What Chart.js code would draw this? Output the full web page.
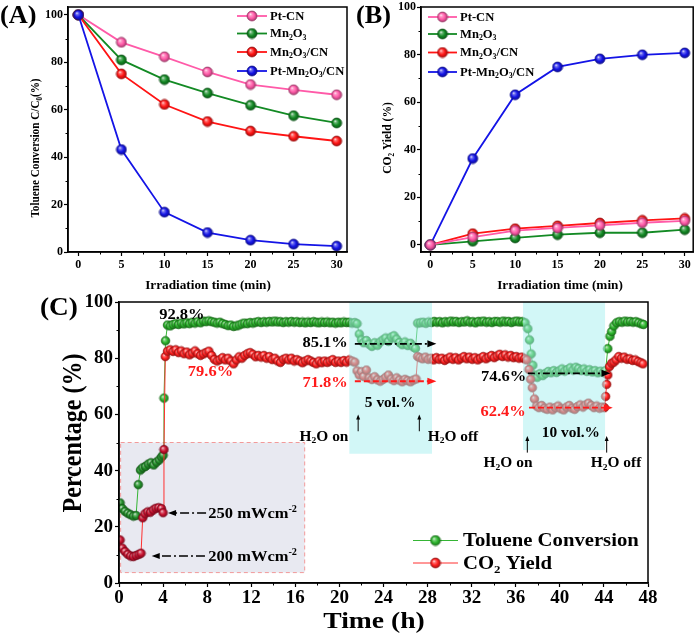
<!DOCTYPE html>
<html><head><meta charset="utf-8">
<script src="https://cdn.jsdelivr.net/npm/chart.js@4.4.1/dist/chart.umd.min.js"></script>
<style>
html,body{margin:0;padding:0;background:#fff;}
#wrap{position:relative;width:700px;height:635px;overflow:hidden;}
canvas{position:absolute;left:0;top:0;}
</style></head><body>
<div id="wrap">
<canvas id="cA" width="700" height="635"></canvas>
<canvas id="cB" width="700" height="635"></canvas>
<canvas id="cC" width="700" height="635"></canvas>
</div>
<script>
// ---------------- DATA ----------------
const timeMin = [0, 5, 10, 15, 20, 25, 30];
const sampleNames = ['Pt-CN', 'Mn₂O₃', 'Mn₂O₃/CN', 'Pt-Mn₂O₃/CN'];
// (A) Toluene conversion C/C0 (%)
const convPtCN      = [100, 88.4, 82.3, 75.9, 70.6, 68.4, 66.3];
const convMn2O3     = [100, 81.0, 72.7, 67.0, 61.9, 57.5, 54.4];
const convMn2O3CN   = [100, 75.1, 62.2, 55.0, 51.0, 48.8, 46.8];
const convPtMn2O3CN = [100, 43.2, 16.8, 8.2, 5.0, 3.3, 2.5];
// (B) CO2 yield (%)
const yieldPtCN      = [0, 3.3, 6.0, 7.1, 8.2, 9.3, 10.1];
const yieldMn2O3     = [0, 1.5, 2.9, 4.3, 5.1, 5.1, 6.4];
const yieldMn2O3CN   = [0, 4.7, 6.8, 8.0, 9.2, 10.3, 11.1];
const yieldPtMn2O3CN = [0, 36.3, 63.1, 74.8, 78.2, 79.9, 80.7];
// (C) long-term test
const tolTime = [
 0.1,0.3,0.55,0.8,1.05,1.3,1.55,1.75,1.95,2.15,2.4,2.65,2.9,3.15,3.4,3.65,3.85,4.0,4.08,4.22,
 4.4,4.65,4.9,5.15,5.4,5.65,5.9,6.15,6.4,6.65,6.9,7.15,7.4,7.65,7.9,8.15,8.4,8.65,8.9,9.15,
 9.4,9.65,9.9,10.15,10.4,10.65,10.9,11.15,11.4,11.65,11.9,12.15,12.4,12.65,12.9,13.15,13.4,13.65,13.9,14.15,
 14.4,14.65,14.9,15.15,15.4,15.65,15.9,16.15,16.4,16.65,16.9,17.15,17.4,17.65,17.9,18.15,18.4,18.65,18.9,19.15,
 19.4,19.65,19.9,20.15,20.4,20.65,20.9,21.15,21.4,21.6,
 21.8,22.0,22.2,22.45,22.7,22.95,23.2,23.45,23.7,23.95,24.2,24.45,24.7,24.95,25.2,25.45,25.7,25.95,26.2,26.45,26.7,26.9,27.1,
 27.35,27.6,27.85,28.1,28.35,28.6,28.85,29.1,29.35,29.6,29.85,30.1,30.35,30.6,30.85,31.1,31.35,31.6,31.85,32.1,
 32.35,32.6,32.85,33.1,33.35,33.6,33.85,34.1,34.35,34.6,34.85,35.1,35.35,35.6,35.85,36.1,36.35,36.6,36.85,
 37.1,37.25,37.4,37.55,37.75,37.95,
 38.2,38.45,38.7,38.95,39.2,39.45,39.7,39.95,40.2,40.45,40.7,40.95,41.2,41.45,41.7,41.95,42.2,42.45,42.7,42.95,43.2,43.45,43.7,43.95,
 44.15,44.35,44.55,44.7,44.9,
 45.15,45.4,45.65,45.9,46.15,46.4,46.65,46.9,47.15,47.4,47.6
];
const tolConv = [
 28.5,26.5,25.5,24.8,24.3,23.8,24.0,35.0,40.2,41.0,41.5,42.3,42.8,42.0,43.0,43.8,44.8,45.5,65.8,86.2,
 91.8,91.5,92.0,92.3,92.0,92.5,92.2,92.6,92.3,92.8,92.5,93.0,92.6,93.2,93.0,93.3,93.0,92.8,92.5,92.8,
 92.3,92.0,91.6,91.8,91.3,91.5,91.8,92.2,92.5,92.3,92.7,92.5,92.8,93.0,92.7,93.0,92.8,93.1,92.9,93.2,
 92.9,93.0,92.7,93.0,92.8,93.1,92.8,93.0,92.7,92.9,92.6,92.9,92.7,93.0,92.8,92.6,92.9,92.7,92.9,92.6,
 92.8,92.5,92.8,92.6,92.9,92.7,92.8,92.5,92.7,92.3,
 88.6,86.5,85.5,86.3,85.0,84.2,85.5,84.6,85.8,86.5,87.2,86.0,87.5,88.0,86.8,85.6,84.8,85.8,84.5,85.3,84.0,83.5,92.5,
 92.6,92.8,92.4,92.9,92.7,93.1,92.8,93.0,92.6,93.0,92.8,93.2,92.9,93.1,92.7,93.0,92.9,93.3,92.8,93.0,
 92.6,93.1,92.9,93.2,92.8,93.0,92.7,93.1,93.0,92.8,93.2,92.9,93.1,92.7,93.0,93.2,92.9,93.0,92.6,
 90.5,86.5,81.5,77.5,74.0,73.2,
 74.5,73.8,74.6,75.3,74.8,75.6,74.9,75.5,76.2,75.4,76.0,76.6,75.8,76.8,76.3,75.6,76.2,75.3,75.9,75.1,75.6,74.8,75.4,74.9,
 75.6,83.4,87.8,89.5,91.5,
 92.6,93.0,92.8,93.2,92.9,93.1,92.8,93.0,92.6,92.2,92.0
];
const co2Time = [
 0.1,0.3,0.55,0.8,1.05,1.3,1.55,1.8,2.0,2.15,2.35,2.6,2.85,3.1,3.35,3.6,3.85,4.0,4.08,4.2,
 4.4,4.65,4.9,5.15,5.4,5.65,5.9,6.15,6.4,6.65,6.9,7.15,7.4,7.65,7.9,8.15,8.4,8.65,8.9,9.15,
 9.4,9.65,9.9,10.15,10.4,10.65,10.9,11.15,11.4,11.65,11.9,12.15,12.4,12.65,12.9,13.15,13.4,13.65,13.9,14.15,
 14.4,14.65,14.9,15.15,15.4,15.65,15.9,16.15,16.4,16.65,16.9,17.15,17.4,17.65,17.9,18.15,18.4,18.65,18.9,19.15,
 19.4,19.65,19.9,20.15,20.4,20.65,20.9,21.15,21.4,
 21.6,21.8,22.0,22.2,22.45,22.7,22.95,23.2,23.45,23.7,23.95,24.2,24.45,24.7,24.95,25.2,25.45,25.7,25.95,26.2,26.45,26.7,26.95,27.1,
 27.3,27.55,27.8,28.05,28.3,28.55,28.8,29.05,29.3,29.55,29.8,30.05,30.3,30.55,30.8,31.05,31.3,31.55,31.8,32.05,
 32.3,32.55,32.8,33.05,33.3,33.55,33.8,34.05,34.3,34.55,34.8,35.05,35.3,35.55,35.8,36.05,36.3,36.55,36.8,37.0,
 37.2,37.35,37.5,37.7,37.9,
 38.1,38.35,38.6,38.85,39.1,39.35,39.6,39.85,40.1,40.35,40.6,40.85,41.1,41.35,41.6,41.85,42.1,42.35,42.6,42.85,43.1,43.35,43.6,43.85,
 44.05,44.15,44.25,44.35,44.5,44.7,44.9,
 45.1,45.35,45.6,45.85,46.1,46.35,46.6,46.85,47.1,47.35,47.55
];
const co2Yield = [
 15.3,12.4,11.2,10.2,9.6,9.4,9.8,10.2,10.6,23.2,24.6,25.3,25.2,26.0,26.6,26.8,26.5,25.0,47.5,80.6,
 82.5,83.0,82.4,83.0,82.0,82.6,81.6,82.2,81.2,81.8,82.6,81.6,81.0,81.5,82.0,82.5,81.0,79.6,79.0,79.5,
 80.2,79.4,80.0,79.0,78.0,79.4,80.5,80.0,81.0,81.6,82.0,81.4,80.5,81.0,80.4,81.0,80.0,80.6,79.5,80.0,
 79.0,78.5,79.6,80.0,79.4,80.0,79.0,79.5,79.0,78.4,79.0,79.5,79.0,78.5,78.0,79.0,78.4,79.0,78.5,79.0,
 79.5,78.5,79.0,78.5,79.2,78.6,79.4,79.0,78.6,
 75.5,74.0,75.2,73.5,75.8,73.0,72.4,73.4,72.3,71.8,72.4,73.2,74.0,72.6,72.0,73.0,72.2,71.6,72.5,72.0,71.6,72.2,72.6,80.6,
 80.2,79.8,80.4,79.6,80.0,79.4,80.2,79.6,80.0,79.2,79.8,80.4,79.6,80.2,79.4,80.0,80.6,79.8,80.4,79.6,
 80.2,79.4,80.0,80.6,79.8,80.4,81.0,80.2,80.8,81.4,80.6,81.2,80.4,81.0,80.2,80.6,80.0,80.4,79.8,79.4,
 76.0,72.5,69.5,65.5,63.0,
 62.4,63.2,62.2,61.8,62.6,61.6,62.4,63.0,62.0,61.6,62.6,63.2,62.2,61.8,62.8,63.4,62.6,63.4,64.0,63.2,62.4,63.0,62.2,62.6,
 62.4,66.4,70.7,74.0,77.0,78.2,78.6,
 79.4,80.6,80.0,80.4,79.6,79.8,79.2,79.4,78.8,78.4,78.0
];
const seriesNamesC = ['Toluene Conversion', 'CO₂ Yield'];
// tick labels
const ticksMin = [0, 5, 10, 15, 20, 25, 30];
const ticksPct = [0, 20, 40, 60, 80, 100];
const ticksHour = [0, 4, 8, 12, 16, 20, 24, 28, 32, 36, 40, 44, 48];

// ---------------- HELPERS ----------------
const SERIF = "'Liberation Serif','Times New Roman','DejaVu Serif',serif";
function shade(hex, f){
  const n = parseInt(hex.slice(1), 16); let r = n>>16, g = (n>>8)&255, b = n&255;
  if (f < 0){ r*=1+f; g*=1+f; b*=1+f; } else { r += (255-r)*f; g += (255-g)*f; b += (255-b)*f; }
  return 'rgb(' + (r|0) + ',' + (g|0) + ',' + (b|0) + ')';
}
function makeBall(hex, r){
  const s = Math.ceil(2*r + 2), c = document.createElement('canvas');
  c.width = s; c.height = s;
  const x = c.getContext('2d'), m = s/2;
  const g = x.createRadialGradient(m - r*0.35, m - r*0.4, 0, m, m, r);
  g.addColorStop(0, '#ffffff'); g.addColorStop(0.25, shade(hex, 0.4));
  g.addColorStop(0.62, hex); g.addColorStop(1, shade(hex, -0.35));
  x.fillStyle = g; x.beginPath(); x.arc(m, m, r, 0, Math.PI*2); x.fill();
  x.lineWidth = 0.7; x.strokeStyle = shade(hex, -0.4); x.stroke();
  return c;
}
function richRuns(s){
  const sub = '₀₁₂₃₄₅₆₇₈₉', sup = {'⁻':'-', '²':'2'};
  const runs = [];
  for (const ch of s){
    let type = 0, c = ch; const i = sub.indexOf(ch);
    if (i >= 0){ type = 1; c = String(i); } else if (sup[ch]){ type = 2; c = sup[ch]; }
    if (runs.length && runs[runs.length-1].type === type) runs[runs.length-1].text += c;
    else runs.push({type, text: c});
  }
  return runs;
}
function drawRich(ctx, s, x, y, o){
  const size = o.size, sx = o.sx || 1, runs = richRuns(s);
  const fontFor = t => 'bold ' + (t ? size*0.62 : size) + 'px ' + SERIF;
  ctx.save();
  ctx.translate(x, y); ctx.scale(sx, 1);
  if (o.rot) ctx.rotate(o.rot);
  let w = 0;
  runs.forEach(r => { ctx.font = fontFor(r.type); r.w = ctx.measureText(r.text).width; w += r.w; });
  let cx = o.align === 'left' ? 0 : (o.align === 'right' ? -w : -w/2);
  const base = size*0.33;
  ctx.fillStyle = o.color || '#000'; ctx.textAlign = 'left'; ctx.textBaseline = 'alphabetic';
  runs.forEach(r => {
    ctx.font = fontFor(r.type);
    const dy = r.type === 1 ? size*0.2 : (r.type === 2 ? -size*0.4 : 0);
    ctx.fillText(r.text, cx, base + dy); cx += r.w;
  });
  ctx.restore();
}
function arrow(ctx, x1, y1, x2, y2, o){
  ctx.save();
  ctx.strokeStyle = o.color; ctx.fillStyle = o.color; ctx.lineWidth = o.lw || 1.5;
  const a = Math.atan2(y2-y1, x2-x1), h = o.head || 7, hw = o.hw || 3.5;
  const ex = x2 - Math.cos(a)*h*0.8, ey = y2 - Math.sin(a)*h*0.8;
  ctx.setLineDash(o.dash || []);
  ctx.beginPath(); ctx.moveTo(x1, y1); ctx.lineTo(ex, ey); ctx.stroke();
  ctx.setLineDash([]);
  ctx.beginPath(); ctx.moveTo(x2, y2);
  ctx.lineTo(x2 - Math.cos(a)*h + Math.sin(a)*hw, y2 - Math.sin(a)*h - Math.cos(a)*hw);
  ctx.lineTo(x2 - Math.cos(a)*h - Math.sin(a)*hw, y2 - Math.sin(a)*h + Math.cos(a)*hw);
  ctx.closePath(); ctx.fill();
  ctx.restore();
}
function frame(chart, minorX, minorY, len){
  const {ctx, chartArea: a, scales} = chart;
  ctx.save();
  ctx.strokeStyle = '#000'; ctx.lineWidth = 1.5;
  ctx.strokeRect(a.left, a.top, a.right - a.left, a.bottom - a.top);
  ctx.lineWidth = 1;
  ctx.beginPath();
  minorX.forEach(v => { const p = Math.round(scales.x.getPixelForValue(v)) + 0.5; ctx.moveTo(p, a.bottom); ctx.lineTo(p, a.bottom + len); });
  minorY.forEach(v => { const p = Math.round(scales.y.getPixelForValue(v)) + 0.5; ctx.moveTo(a.left, p); ctx.lineTo(a.left - len, p); });
  ctx.stroke();
  ctx.restore();
}
function legendItems(ctx, items, x1, x2, xt, ys, size, sx){
  items.forEach((it, i) => {
    const y = ys[i];
    ctx.save();
    ctx.strokeStyle = it.color; ctx.lineWidth = it.lw;
    ctx.beginPath(); ctx.moveTo(x1, y); ctx.lineTo(x2, y); ctx.stroke();
    ctx.drawImage(it.ball, (x1 + x2)/2 - it.ball.width/2, y - it.ball.height/2);
    ctx.restore();
    drawRich(ctx, it.label, xt, y, {size: size, align: 'left', sx: sx});
  });
}
function axisOpts(minV, maxV, tickList, fixSize, isX, fontSize, tickLen, pad){
  return {
    type: 'linear', min: minV, max: maxV,
    afterBuildTicks: s => { s.ticks = tickList.map(v => ({value: v})); },
    afterFit: s => { if (isX) s.height = fixSize; else s.width = fixSize; },
    grid: {display: true, drawOnChartArea: false, drawTicks: true, tickLength: tickLen, tickWidth: 1.2, tickColor: '#000'},
    border: {display: true, color: '#000', width: 1.5},
    ticks: {autoSkip: false, maxRotation: 0, color: '#000', padding: pad,
            font: {family: SERIF, size: fontSize, weight: 'bold', lineHeight: 1}}
  };
}

// ---------------- COLOURS ----------------
const colA = ['#ff5aa8', '#138a24', '#ff1414', '#1414e6'];
const ballsA = colA.map(c => makeBall(c, 5));
const legendBallsA = colA.map(c => makeBall(c, 5));

// ---------------- PANEL A ----------------
const convA = [convPtCN, convMn2O3, convMn2O3CN, convPtMn2O3CN];
new Chart(document.getElementById('cA'), {
  type: 'line',
  data: { datasets: convA.map((s, i) => ({
    label: sampleNames[i], data: timeMin.map((t, j) => ({x: t, y: s[j]})),
    borderColor: colA[i], borderWidth: 1.8, pointStyle: ballsA[i], pointRadius: 5, tension: 0, order: 4 - i
  })) },
  options: {
    responsive: false, animation: false, events: [],
    layout: {padding: {left: 0, top: 4, right: 353, bottom: 335}},
    plugins: {legend: {display: false}, tooltip: {enabled: false}},
    scales: {
      x: axisOpts(-1.2, 31.2, ticksMin, 48, true, 12, 4, 3),
      y: axisOpts(0, 103.3, ticksPct, 68, false, 12, 4, 1)
    }
  },
  plugins: [{
    id: 'decorA',
    afterDraw(chart){
      const ctx = chart.ctx;
      frame(chart, [2.5, 7.5, 12.5, 17.5, 22.5, 27.5], [10, 30, 50, 70, 90], 2.5);
      drawRich(ctx, '(A)', 0, 15, {size: 25, align: 'left', sx: 1.05});
      drawRich(ctx, 'Irradiation time (min)', 208, 285, {size: 11.5, sx: 1.15});
      drawRich(ctx, 'Toluene Conversion C/C₀(%)', 35, 148, {size: 11.2, sx: 1.15, rot: -Math.PI/2});
      legendItems(ctx, sampleNames.map((n, i) => ({label: n, color: colA[i], lw: 1.8, ball: legendBallsA[i]})),
        237, 267, 270, [16, 33.5, 52, 71], 12, 1.05);
    }
  }]
});

// ---------------- PANEL B ----------------
const yieldB = [yieldPtCN, yieldMn2O3, yieldMn2O3CN, yieldPtMn2O3CN];
new Chart(document.getElementById('cB'), {
  type: 'line',
  data: { datasets: yieldB.map((s, i) => ({
    label: sampleNames[i], data: timeMin.map((t, j) => ({x: t, y: s[j]})),
    borderColor: colA[i], borderWidth: 1.8, pointStyle: ballsA[i], pointRadius: 5, tension: 0, order: i === 0 ? 1 : 4 - i
  })) },
  options: {
    responsive: false, animation: false, events: [],
    layout: {padding: {left: 350, top: 5, right: 2, bottom: 335}},
    plugins: {legend: {display: false}, tooltip: {enabled: false}},
    scales: {
      x: axisOpts(-1.1, 31.0, ticksMin, 48, true, 12, 4, 3),
      y: axisOpts(-3, 100, ticksPct, 71, false, 12, 4, 1)
    }
  },
  plugins: [{
    id: 'decorB',
    afterDraw(chart){
      const ctx = chart.ctx;
      frame(chart, [2.5, 7.5, 12.5, 17.5, 22.5, 27.5], [10, 30, 50, 70, 90], 2.5);
      drawRich(ctx, '(B)', 356, 15, {size: 25, align: 'left', sx: 1.05});
      drawRich(ctx, 'Irradiation time (min)', 560, 285, {size: 11.5, sx: 1.15});
      drawRich(ctx, 'CO₂ Yield (%)', 387, 138, {size: 11.5, sx: 1.15, rot: -Math.PI/2});
      legendItems(ctx, sampleNames.map((n, i) => ({label: n, color: colA[i], lw: 1.8, ball: legendBallsA[i]})),
        428, 457, 460, [17, 34, 52.5, 72], 12, 1.05);
    }
  }]
});

// ---------------- PANEL C ----------------
const gC = '#2cb52c', rC = '#ff2020';
const ballG = makeBall(gC, 4.3), ballGd = makeBall('#23912a', 4.3);
const ballR = makeBall(rC, 4.3), ballRd = makeBall('#c8102e', 4.3);
const inGray = p => p && p.x < 16.8 && p.y < 50;
new Chart(document.getElementById('cC'), {
  type: 'line',
  data: { datasets: [
    { label: seriesNamesC[0], data: tolTime.map((t, i) => ({x: t, y: tolConv[i]})),
      borderColor: '#35b535', borderWidth: 1, tension: 0, pointRadius: 4, order: 2,
      pointStyle: c => inGray(c.raw) ? ballGd : ballG },
    { label: seriesNamesC[1], data: co2Time.map((t, i) => ({x: t, y: co2Yield[i]})),
      borderColor: '#ff3030', borderWidth: 1, tension: 0, pointRadius: 4, order: 1,
      pointStyle: c => inGray(c.raw) ? ballRd : ballR }
  ] },
  options: {
    responsive: false, animation: false, events: [],
    layout: {padding: {left: 0, top: 302, right: 52, bottom: 0}},
    plugins: {legend: {display: false}, tooltip: {enabled: false}},
    scales: {
      x: axisOpts(0, 48, ticksHour, 52, true, 19, 4, 2),
      y: axisOpts(0, 100, ticksPct, 119, false, 19, 4, 2)
    }
  },
  plugins: [{
    id: 'decorC',
    beforeDatasetsDraw(chart){
      const {ctx, scales: {x, y}} = chart;
      const X = v => x.getPixelForValue(v), Y = v => y.getPixelForValue(v);
      ctx.save();
      ctx.fillStyle = '#e8e9f1';
      ctx.fillRect(X(0.15), Y(50), X(16.85) - X(0.15), Y(3.7) - Y(50));
      ctx.strokeStyle = '#f29a9a'; ctx.lineWidth = 1; ctx.setLineDash([4, 3]);
      ctx.strokeRect(X(0.15), Y(50), X(16.85) - X(0.15), Y(3.7) - Y(50));
      ctx.restore();
    },
    afterDatasetsDraw(chart){
      const {ctx, scales: {x, y}} = chart;
      const X = v => x.getPixelForValue(v), Y = v => y.getPixelForValue(v);
      ctx.save();
      ctx.fillStyle = 'rgba(165,240,240,0.5)';
      ctx.fillRect(X(20.9), Y(100), X(28.4) - X(20.9), Y(46) - Y(100));
      ctx.fillRect(X(36.66), Y(100), X(44.1) - X(36.66), Y(47.3) - Y(100));
      ctx.restore();
    },
    afterDraw(chart){
      const {ctx, scales: {x, y}} = chart;
      const X = v => x.getPixelForValue(v), Y = v => y.getPixelForValue(v);
      frame(chart, [2, 6, 10, 14, 18, 22, 26, 30, 34, 38, 42, 46], [10, 30, 50, 70, 90], 2.5);
      // dashed arrows at the wet-feed levels
      arrow(ctx, X(21.4), Y(85.1), X(28.8), Y(85.1), {color: '#000', dash: [7, 3, 2, 3], lw: 1.8, head: 9, hw: 3.5});
      arrow(ctx, X(21.4), Y(71.8), X(28.8), Y(71.8), {color: '#ff1a1a', dash: [6, 3], lw: 1.8, head: 9, hw: 3.5});
      arrow(ctx, X(37.1), Y(74.6), X(44.6), Y(74.6), {color: '#000', dash: [7, 3, 2, 3], lw: 1.8, head: 9, hw: 3.5});
      arrow(ctx, X(37.2), Y(62.4), X(44.8), Y(62.4), {color: '#ff1a1a', dash: [6, 3], lw: 1.8, head: 9, hw: 3.5});
      // up arrows
      [[21.7, 54, 60], [27.25, 54, 60], [37.05, 46.4, 52.3], [44.25, 46.4, 52.3]].forEach(a =>
        arrow(ctx, X(a[0]), Y(a[1]), X(a[0]), Y(a[2]), {color: '#000', lw: 1, head: 5, hw: 2}));
      // power arrows
      arrow(ctx, X(7.9), Y(24.9), X(4.45), Y(24.9), {color: '#000', dash: [9, 3, 2, 3], lw: 1.5, head: 8, hw: 3});
      arrow(ctx, X(7.8), Y(9.6), X(2.97), Y(9.6), {color: '#000', dash: [9, 3, 2, 3], lw: 1.5, head: 8, hw: 3});
      // labels
      const T = (s, xv, yv, col, sz, al) => drawRich(ctx, s, X(xv), Y(yv), {size: sz, color: col, sx: 1.1, align: al || 'center'});
      T('92.8%', 5.7, 95.6, '#000', 15);
      T('79.6%', 8.3, 75.4, '#ff1a1a', 15);
      T('85.1%', 18.7, 85.6, '#000', 15);
      T('71.8%', 18.7, 71.4, '#ff1a1a', 15);
      T('74.6%', 34.9, 73.6, '#000', 15);
      T('62.4%', 34.85, 61.2, '#ff1a1a', 15);
      T('5 vol.%', 24.6, 64.4, '#000', 14);
      T('10 vol.%', 41.0, 53.7, '#000', 14);
      T('H₂O on', 18.6, 52.3, '#000', 14);
      T('H₂O off', 30.3, 52.3, '#000', 14);
      T('H₂O on', 35.3, 42.9, '#000', 14);
      T('H₂O off', 45.1, 42.9, '#000', 14);
      T('250 mWcm⁻²', 8.1, 24.9, '#000', 15, 'left');
      T('200 mWcm⁻²', 8.1, 9.6, '#000', 15, 'left');
      // panel label and axis titles
      drawRich(ctx, '(C)', 40, 306, {size: 26, align: 'left', sx: 1.05});
      drawRich(ctx, 'Time (h)', 374, 620, {size: 24, sx: 1.15});
      drawRich(ctx, 'Percentage (%)', 72, 433, {size: 24, sx: 1.15, rot: -Math.PI/2});
      // legend
      legendItems(ctx, [
        {label: seriesNamesC[0], color: '#35b535', lw: 1, ball: makeBall(gC, 5)},
        {label: seriesNamesC[1], color: '#ff3030', lw: 1, ball: makeBall(rC, 5)}
      ], 413, 458, 463, [540.5, 563], 18, 1.15);
    }
  }]
});
</script>
</body></html>
